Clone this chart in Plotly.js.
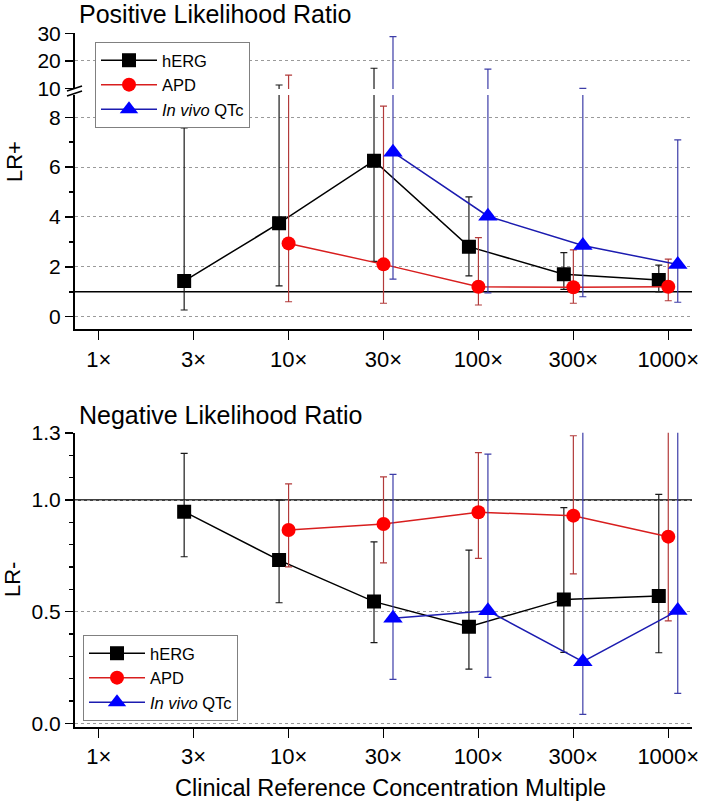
<!DOCTYPE html>
<html>
<head>
<meta charset="utf-8">
<script src="https://cdn.plot.ly/plotly-3.0.1.min.js"></script>
<style>html,body{margin:0;padding:0;background:#fff;}#chart{width:709px;height:810px;}</style>
</head>
<body>
<div id="chart"></div>
<script>
// ---------------- DATA ----------------
const categories = ['1×', '3×', '10×', '30×', '100×', '300×', '1000×'];
const seriesNames = ['hERG', 'APD', '<i>In vivo</i> QTc'];

// Positive likelihood ratio (LR+) : point estimate, lower CI, upper CI (null = not available)
const posHERG   = [null, 1.43, 3.75, 6.26, 2.81, 1.70, 1.47];
const posHERGLo = [null, 0.27, 1.24, 2.22, 1.64, 1.10, 1.00];
const posHERGHi = [null, 7.57, 11.2, 17.3, 4.81, 2.57, 2.07];
const posAPD    = [null, null, 2.94, 2.10, 1.20, 1.18, 1.20];
const posAPDLo  = [null, null, 0.60, 0.54, 0.47, 0.54, 0.64];
const posAPDHi  = [null, null, 14.8, 8.45, 3.17, 2.68, 2.31];
const posQTc    = [null, null, null, 6.60, 4.03, 2.86, 2.09];
const posQTcLo  = [null, null, null, 1.51, 0.96, 0.80, 0.58];
const posQTcHi  = [null, null, null, 28.8, 17.0, 10.0, 7.09];

// Negative likelihood ratio (LR-)
const negHERG   = [null, 0.948, 0.731, 0.545, 0.433, 0.555, 0.570];
const negHERGLo = [null, 0.746, 0.540, 0.361, 0.243, 0.318, 0.316];
const negHERGHi = [null, 1.209, 1.000, 0.813, 0.776, 0.966, 1.025];
const negAPD    = [null, null, 0.866, 0.893, 0.945, 0.930, 0.836];
const negAPDLo  = [null, null, 0.701, 0.719, 0.739, 0.669, 0.459];
const negAPDHi  = [null, null, 1.072, 1.104, 1.212, 1.288, 1.450];
const negQTc    = [null, null, null, 0.470, 0.504, 0.276, 0.505];
const negQTcLo  = [null, null, null, 0.197, 0.206, 0.040, 0.134];
const negQTcHi  = [null, null, null, 1.115, 1.206, 1.450, 1.450];

const posLowerTicks = [0, 2, 4, 6, 8];
const posUpperTicks = [10, 20, 30];
const negTicks = [0.0, 0.5, 1.0, 1.3];
const refLine = 1;

// ---------------- STYLE ----------------
const FONT = 'Liberation Sans, Arial, sans-serif';
const W = 709, H = 810, ML = 75, MR = 17;
const PW = W - ML - MR;
const px2x = p => (p - ML) / PW;
const py2y = p => 1 - p / H;

const styles = [
  {offset: -0.1, symbol: 'square', size: 14, mcolor: '#000000', lcolor: '#000000', ecolor: '#1a1a1a'},
  {offset: 0.0, symbol: 'circle', size: 14, mcolor: '#ff0000', lcolor: '#d81e1e', ecolor: '#b23a3a'},
  {offset: 0.1, symbol: 'triangle-up', size: 17, mcolor: '#0000ff', lcolor: '#1c1cb0', ecolor: '#3d3da8'}
];

const xIdx = categories.map((c, i) => i);

function mk(vals, lo, hi, st, name, xa, ya, legend, show, visibleMarkers) {
  const x = [], y = [], ep = [], em = [];
  vals.forEach((v, i) => {
    if (v === null) return;
    x.push(xIdx[i] + st.offset);
    y.push(v);
    ep.push(hi[i] - v);
    em.push(v - lo[i]);
  });
  return {
    type: 'scatter', x, y, xaxis: xa, yaxis: ya, name,
    mode: visibleMarkers ? 'lines+markers' : 'markers',
    legend, showlegend: show,
    line: {color: st.lcolor, width: 1.5},
    marker: {symbol: st.symbol, size: st.size, color: st.mcolor,
             opacity: visibleMarkers ? 1 : 0, line: {width: 0}},
    error_y: {type: 'data', symmetric: false, array: ep, arrayminus: em,
              color: st.ecolor, thickness: 1.2, width: 3.5},
    hoverinfo: 'skip'
  };
}

const posSets = [[posHERG, posHERGLo, posHERGHi], [posAPD, posAPDLo, posAPDHi], [posQTc, posQTcLo, posQTcHi]];
const negSets = [[negHERG, negHERGLo, negHERGHi], [negAPD, negAPDLo, negAPDHi], [negQTc, negQTcLo, negQTcHi]];

const traces = [];
posSets.forEach((s, k) => traces.push(mk(s[0], s[1], s[2], styles[k], seriesNames[k], 'x', 'y3', 'legend', false, false)));
posSets.forEach((s, k) => traces.push(mk(s[0], s[1], s[2], styles[k], seriesNames[k], 'x', 'y', 'legend', true, true)));
negSets.forEach((s, k) => traces.push(mk(s[0], s[1], s[2], styles[k], seriesNames[k], 'x2', 'y2', 'legend2', true, true)));

const gridStyle = {showgrid: true, gridcolor: '#9a9a9a', griddash: 'dot', gridwidth: 1};
const tickFontY = {family: FONT, size: 21, color: '#000'};
const tickFontX = {family: FONT, size: 22, color: '#000'};

const xBase = {
  domain: [0, 1], range: [-0.25, 6.25], tickmode: 'array', tickvals: xIdx, ticktext: categories,
  showgrid: false, zeroline: false, showline: true, linecolor: '#000', linewidth: 2,
  ticks: 'outside', ticklen: 9, tickwidth: 1.5, tickcolor: '#000', tickfont: tickFontX
};

const legendFont = {family: FONT, size: 16.5, color: '#000'};

const layout = {
  width: W, height: H, margin: {l: ML, r: MR, t: 0, b: 0},
  paper_bgcolor: '#fff', plot_bgcolor: '#fff', font: {family: FONT, color: '#000'},
  showlegend: true,
  xaxis: Object.assign({}, xBase, {anchor: 'y'}),
  xaxis2: Object.assign({}, xBase, {anchor: 'y2'}),
  yaxis: Object.assign({}, gridStyle, {
    domain: [py2y(329.3), py2y(95)], range: [-0.505, 8.893], anchor: 'x',
    tickmode: 'array', tickvals: posLowerTicks, zeroline: false, showline: true,
    linecolor: '#000', linewidth: 2, ticks: 'outside', ticklen: 8, tickwidth: 1.5, tickcolor: '#000',
    tickfont: tickFontY, minor: {dtick: 1, tick0: 0, ticks: 'outside', ticklen: 4, tickwidth: 1.5, tickcolor: '#000', showgrid: false}
  }),
  yaxis3: Object.assign({}, gridStyle, {
    domain: [py2y(89), py2y(33)], range: [9.75, 30.11], anchor: 'x',
    tickmode: 'array', tickvals: posUpperTicks, zeroline: false, showline: true,
    linecolor: '#000', linewidth: 2, ticks: 'outside', ticklen: 8, tickwidth: 1.5, tickcolor: '#000',
    tickfont: tickFontY
  }),
  yaxis2: Object.assign({}, gridStyle, {
    domain: [py2y(726.7), py2y(432.7)], range: [-0.0152, 1.3016], anchor: 'x2',
    tickmode: 'array', tickvals: negTicks, tickformat: '.1f', zeroline: false, showline: true,
    linecolor: '#000', linewidth: 2, ticks: 'outside', ticklen: 8, tickwidth: 1.5, tickcolor: '#000',
    tickfont: tickFontY, minor: {dtick: 0.1, tick0: 0, ticks: 'outside', ticklen: 4, tickwidth: 1.5, tickcolor: '#000', showgrid: false}
  }),
  legend: {x: px2x(95), y: py2y(42), xanchor: 'left', yanchor: 'top', bgcolor: '#fff',
           bordercolor: '#808080', borderwidth: 1, font: legendFont,
           tracegroupgap: 0, itemwidth: 56},
  legend2: {x: px2x(83), y: py2y(635), xanchor: 'left', yanchor: 'top', bgcolor: '#fff',
            bordercolor: '#808080', borderwidth: 1, font: legendFont,
            tracegroupgap: 0, itemwidth: 56},
  shapes: [
    {type: 'line', xref: 'x domain', x0: 0, x1: 1, yref: 'y', y0: refLine, y1: refLine,
     line: {color: '#000', width: 1.5}, layer: 'below'},
    {type: 'line', xref: 'x2 domain', x0: 0, x1: 1, yref: 'y2', y0: refLine, y1: refLine,
     line: {color: '#000', width: 1.5}, layer: 'below'},
    // axis break marks
    {type: 'line', xref: 'paper', yref: 'paper', x0: px2x(67), x1: px2x(82), y0: py2y(91), y1: py2y(86),
     line: {color: '#000', width: 1.5}},
    {type: 'line', xref: 'paper', yref: 'paper', x0: px2x(67), x1: px2x(82), y0: py2y(96), y1: py2y(91),
     line: {color: '#000', width: 1.5}}
  ],
  annotations: [
    {text: 'Positive Likelihood Ratio', xref: 'paper', yref: 'paper', x: px2x(77), y: py2y(14),
     xanchor: 'left', yanchor: 'middle', showarrow: false, font: {family: FONT, size: 25, color: '#000'}},
    {text: 'Negative Likelihood Ratio', xref: 'paper', yref: 'paper', x: px2x(77), y: py2y(415),
     xanchor: 'left', yanchor: 'middle', showarrow: false, font: {family: FONT, size: 25, color: '#000'}},
    {text: 'LR+', xref: 'paper', yref: 'paper', x: px2x(15), y: py2y(162), textangle: -90,
     xanchor: 'center', yanchor: 'middle', showarrow: false, font: {family: FONT, size: 22, color: '#000'}},
    {text: 'LR-', xref: 'paper', yref: 'paper', x: px2x(12), y: py2y(580), textangle: -90,
     xanchor: 'center', yanchor: 'middle', showarrow: false, font: {family: FONT, size: 22, color: '#000'}},
    {text: 'Clinical Reference Concentration Multiple', xref: 'paper', yref: 'paper', x: px2x(390), y: py2y(788),
     xanchor: 'center', yanchor: 'middle', showarrow: false, font: {family: FONT, size: 23.5, color: '#000'}}
  ]
};

Plotly.newPlot('chart', traces, layout, {staticPlot: true, displayModeBar: false});
</script>
</body>
</html>
